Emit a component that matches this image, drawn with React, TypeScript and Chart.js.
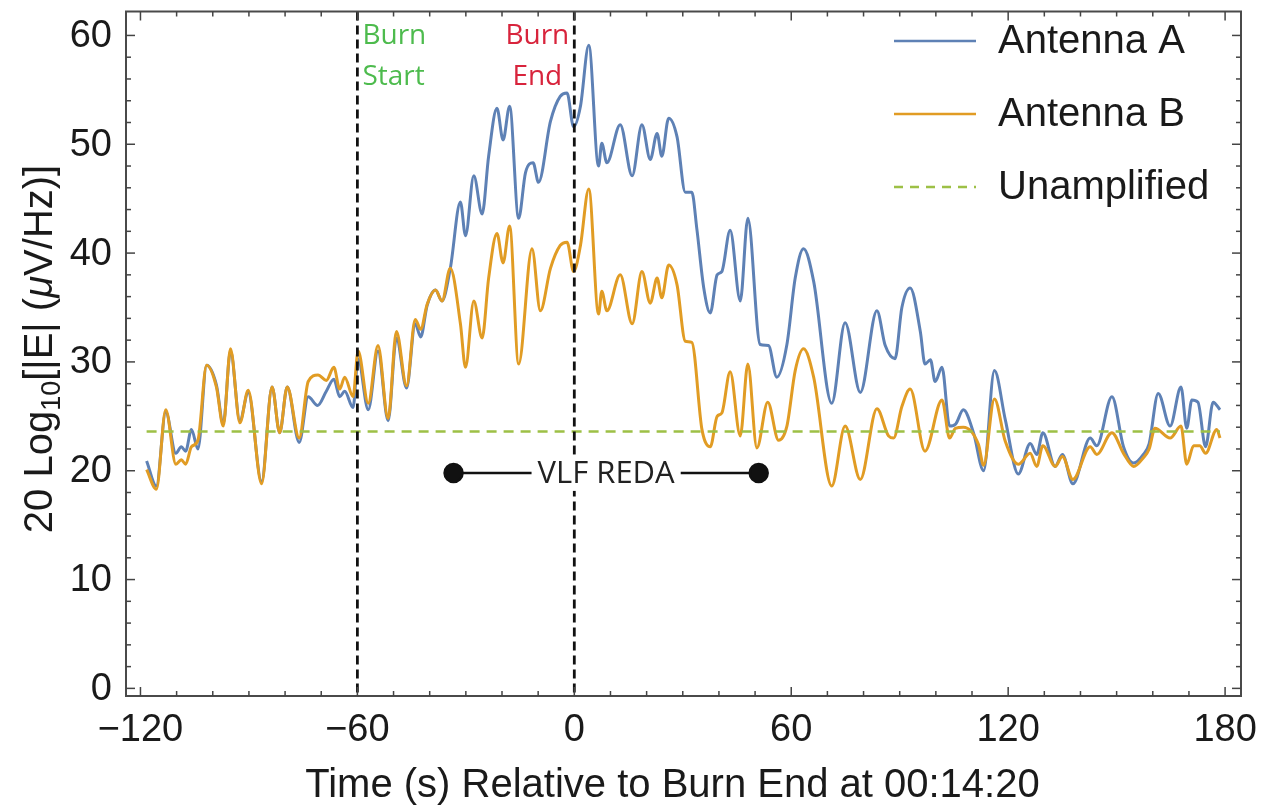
import React, { useEffect, useRef } from "react";
import { Chart, registerables } from "chart.js";

Chart.register(...registerables);

// ---------- data ----------
const timesA = [
  -118.3, -115.6, -113, -110.2, -108.7, -107.5, -105.9, -104.1, -101.7, -99, -97.1, -95.1, -92.5, -90.2,
  -86.5, -83.6, -81.5, -79.4, -76.1, -73.6, -71, -68.6, -66.5, -64.9, -63.5, -61.2, -59.8, -57, -54.3,
  -51.5, -49.2, -46.4, -44, -42.5, -40.7, -38.4, -36.6, -34.3, -31.5, -30.1, -27.8, -25.5, -23.7, -21.4,
  -19.7, -17.9, -15.4, -13.5, -11.4, -9.9, -6.6, -3.9, -2, -0.2, 1.7, 4, 6.7, 7.6, 9, 12.7, 16, 18.7,
  21, 22.9, 24.2, 26.1, 28.4, 30.7, 32.5, 33.9, 35.8, 37.6, 39.5, 40.8, 43.1, 45.9, 48, 51.4, 53.7, 56,
  58.8, 61.1, 63.4, 66.2, 71.2, 74.9, 79.1, 83.7, 86, 88.7, 90.6, 92.9, 95.7, 97, 98.5, 99.8, 101.7,
  103.8, 105.5, 107.6, 110.4, 113.2, 116.2, 119.2, 122.8, 126.1, 127.9, 129.6, 133, 135, 137.9, 142.7,
  144.5, 148.7, 151.9, 154.7, 157.4, 159, 161.5, 164.8, 167.8, 169.4, 170.8, 172.5, 174.6, 176.7, 178.6,
];
const antennaA = [
  20.9, 18.6, 25.4, 21.6, 22.2, 21.8, 23.8, 22.0, 29.7, 27.9, 24.3, 31.0, 24.6, 27.2,
  19.0, 27.7, 23.5, 27.7, 22.6, 26.8, 26.0, 27.3, 28.4, 26.8, 27.3, 25.8, 30.3, 25.6, 31.0,
  24.6, 32.2, 27.6, 33.5, 32.3, 35.2, 36.6, 35.6, 38.6, 44.7, 41.6, 47.1, 43.6, 48.9, 53.3,
  50.4, 53.5, 43.2, 47.4, 48.3, 46.5, 52.1, 54.4, 54.7, 51.6, 53.5, 59.1, 48.0, 50.1, 48.3, 51.8, 47.1, 51.8,
  48.6, 51.0, 48.9, 52.4, 50.7, 45.6, 45.6, 42.2, 36.8, 34.5, 38.0, 38.3, 42.1, 35.6, 43.2, 31.6, 31.5, 28.6,
  31.6, 37.7, 40.4, 37.4, 26.2, 33.6, 27.2, 34.7, 31.5, 30.3, 35.0, 36.8, 32.8, 29.8, 30.2, 28.2, 29.5,
  24.1, 24.3, 25.6, 23.5, 20.0, 29.2, 24.7, 19.7, 22.5, 21.5, 23.5, 20.4, 21.5, 18.8, 23.0,
  22.3, 26.8, 22.2, 20.7, 21.5, 22.5, 27.1, 24.1, 27.7, 23.9, 26.5, 26.3, 22.2, 26.3, 25.6,
];

const timesB = [
  -118.3, -115.6, -113, -110.2, -108.7, -107.5, -105.9, -104.1, -101.7, -99, -97.1, -95.1, -92.5, -90.2,
  -86.5, -83.6, -81.5, -79.4, -76.1, -73.6, -70.9, -68.6, -66.5, -64.9, -63.5, -61.2, -59.8, -57, -54.3,
  -51.5, -49.2, -46.4, -44, -42.5, -40.7, -38.4, -36.6, -34.3, -31.5, -30.1, -27.8, -25.5, -23.7, -21.4,
  -19.7, -17.9, -15.4, -11.7, -9.4, -6.6, -3.9, -2, -0.2, 1.7, 4, 6.7, 7.6, 9, 12.7, 16, 18.7,
  21, 22.9, 24.2, 26.1, 28.4, 30.7, 32.5, 35.3, 37.6, 39.5, 40.8, 43.1, 45.9, 48, 50.5, 53.5, 56.5,
  58.8, 61.1, 63.4, 66.2, 71.2, 74.9, 79.1, 83.7, 86.9, 88.3, 90.6, 92.9, 97, 101.7,
  103.8, 105.4, 107.6, 111.8, 113.2, 116.2, 119.2, 122.8, 126.1, 127.9, 129.6, 133, 135, 137.9, 142.7,
  144.5, 148.7, 151.9, 154.7, 157.4, 159, 160.6, 164.8, 167.8, 169.4, 171.3, 173, 174.6, 177.7, 178.6,
];
const antennaB = [
  20.1, 18.3, 25.6, 20.6, 21.0, 20.6, 22.2, 22.8, 29.7, 27.7, 24.1, 31.2, 24.4, 27.4,
  18.8, 27.7, 23.5, 27.7, 23.0, 28.2, 28.8, 28.3, 29.5, 27.5, 28.6, 26.8, 31.0, 26.2, 31.5,
  24.8, 32.8, 27.8, 33.9, 33.0, 35.3, 36.6, 35.6, 38.6, 33.5, 29.5, 35.6, 32.2, 37.7, 41.8,
  39.1, 42.5, 29.8, 40.4, 34.7, 38.6, 40.7, 41.0, 38.3, 40.7, 45.9, 34.4, 36.5, 34.7, 38.0, 33.5, 38.3,
  35.4, 37.7, 35.9, 38.9, 37.1, 31.9, 31.8, 23.8, 22.2, 25.0, 25.3, 29.1, 23.2, 29.8, 22.1, 26.3, 22.8,
  24.1, 29.2, 31.2, 28.6, 18.6, 24.1, 19.2, 25.7, 23.2, 23.0, 25.9, 27.5, 21.8, 26.5,
  23.0, 23.9, 24.0, 22.4, 20.5, 26.6, 22.7, 20.6, 21.6, 20.4, 22.3, 20.4, 21.3, 19.2, 22.2,
  21.5, 23.5, 21.6, 20.4, 21.2, 22.0, 23.9, 23.0, 24.1, 20.6, 22.3, 22.3, 21.6, 23.8, 23.0,
];

const unamplifiedLevel = 23.6;
const burnStartTime = -60;
const burnEndTime = 0;
const redaStart = -33.4;
const redaEnd = 51;
const redaLevel = 19.8;
const redaLabel = "VLF REDA";

const xTickLabels = [-120, -60, 0, 60, 120, 180];
const yTickLabels = [0, 10, 20, 30, 40, 50, 60];
const xMinorStep = 10;
const yMinorStep = 2;
const xMin = -124;
const xMax = 184.4;
const yMin = -0.7;
const yMax = 62.2;

const seriesNames = ["Antenna A", "Antenna B", "Unamplified"];
const colorA = "#5E81B5";
const colorB = "#E19C24";
const colorU = "#9DC046";
const xTitle = "Time (s) Relative to Burn End at 00:14:20";

const SANS = '"Liberation Sans", Arial, sans-serif';
const CAL = '"Open Sans", sans-serif';

const fmt = (v: number) => (v < 0 ? "\u2212" + Math.abs(v) : String(v));

const overlay = {
  id: "overlay",
  afterDatasetsDraw(chart: any) {
    const { ctx, chartArea: a, scales } = chart;
    const x = scales.x;
    const y = scales.y;
    ctx.save();

    // VLF REDA label with white background
    const mx = x.getPixelForValue((redaStart + redaEnd) / 2);
    const my = y.getPixelForValue(redaLevel);
    ctx.font = `31px ${CAL}`;
    const w = ctx.measureText(redaLabel).width;
    ctx.fillStyle = "#ffffff";
    ctx.fillRect(mx - w / 2 - 6, my - 18, w + 12, 36);
    ctx.fillStyle = "#222";
    ctx.textAlign = "center";
    ctx.textBaseline = "middle";
    ctx.fillText(redaLabel, mx, my + 1);

    // Burn labels
    ctx.font = `28px ${CAL}`;
    ctx.fillStyle = "#4DBB4D";
    const bs = x.getPixelForValue(burnStartTime);
    ctx.textAlign = "left";
    ctx.fillText("Burn", bs + 5, a.top + 25);
    ctx.fillText("Start", bs + 5, a.top + 66);
    ctx.fillStyle = "#D8243C";
    const be = x.getPixelForValue(burnEndTime);
    ctx.textAlign = "center";
    ctx.fillText("Burn", be - 37, a.top + 25);
    ctx.fillText("End", be - 37, a.top + 66);

    // frame
    ctx.strokeStyle = "#4a4a4a";
    ctx.lineWidth = 2;
    ctx.setLineDash([]);
    ctx.strokeRect(a.left, a.top, a.right - a.left, a.bottom - a.top);

    const line = (x1: number, y1: number, x2: number, y2: number) => {
      ctx.beginPath();
      ctx.moveTo(x1, y1);
      ctx.lineTo(x2, y2);
      ctx.stroke();
    };
    ctx.lineWidth = 1.5;
    ctx.strokeStyle = "#444";
    for (let v = xTickLabels[0]; v <= xTickLabels[xTickLabels.length - 1]; v += xMinorStep) {
      const px = x.getPixelForValue(v);
      const len = xTickLabels.includes(v) ? 9 : 5;
      line(px, a.bottom, px, a.bottom - len);
      line(px, a.top, px, a.top + len);
    }
    for (let v = yTickLabels[0]; v <= yTickLabels[yTickLabels.length - 1]; v += yMinorStep) {
      const py = y.getPixelForValue(v);
      const len = yTickLabels.includes(v) ? 9 : 5;
      line(a.left, py, a.left + len, py);
      line(a.right, py, a.right - len, py);
    }

    // tick labels
    ctx.fillStyle = "#1a1a1a";
    ctx.font = `38px ${SANS}`;
    ctx.textAlign = "center";
    ctx.textBaseline = "middle";
    xTickLabels.forEach((v) => ctx.fillText(fmt(v), x.getPixelForValue(v), a.bottom + 35));
    ctx.textAlign = "right";
    yTickLabels.forEach((v) => ctx.fillText(fmt(v), a.left - 14, y.getPixelForValue(v) + 1));

    // x title
    ctx.textAlign = "center";
    ctx.font = `40px ${SANS}`;
    ctx.fillText(xTitle, (a.left + a.right) / 2 - 11, a.bottom + 90);

    // y title with subscript and italic mu
    ctx.save();
    ctx.translate(52, 349);
    ctx.rotate(-Math.PI / 2);
    ctx.textBaseline = "alphabetic";
    ctx.textAlign = "left";
    const parts: [string, string, number][] = [
      ["20 Log", `40px ${SANS}`, 0],
      ["10", `27px ${SANS}`, 8],
      ["[|E| (", `40px ${SANS}`, 0],
      ["\u03BC", `italic 40px ${SANS}`, 0],
      ["V/Hz)]", `40px ${SANS}`, 0],
    ];
    let total = 0;
    parts.forEach(([t, f]) => {
      ctx.font = f;
      total += ctx.measureText(t).width;
    });
    let cx = -total / 2;
    parts.forEach(([t, f, dy]) => {
      ctx.font = f;
      ctx.fillText(t, cx, dy);
      cx += ctx.measureText(t).width;
    });
    ctx.restore();

    // legend
    const legendColors = [colorA, colorB, colorU];
    const legendY = [41, 114, 187];
    ctx.font = `40px ${SANS}`;
    ctx.textAlign = "left";
    ctx.textBaseline = "middle";
    seriesNames.forEach((name, i) => {
      ctx.strokeStyle = legendColors[i];
      ctx.lineWidth = 2.5;
      ctx.setLineDash(i === 2 ? [9, 7] : []);
      line(894, legendY[i], 976, legendY[i]);
      ctx.setLineDash([]);
      ctx.fillStyle = "#1a1a1a";
      ctx.fillText(name, 998, legendY[i] + 1);
    });

    ctx.restore();
  },
};

export default function App() {
  const canvasRef = useRef<HTMLCanvasElement | null>(null);

  useEffect(() => {
    if (!canvasRef.current) return;
    const chart = new Chart(canvasRef.current, {
      type: "line",
      data: {
        datasets: [
          {
            label: seriesNames[0],
            data: timesA.map((t, i) => ({ x: t, y: antennaA[i] })),
            borderColor: colorA,
            borderWidth: 3,
            pointRadius: 0,
            cubicInterpolationMode: "monotone",
            order: 4,
          },
          {
            label: seriesNames[1],
            data: timesB.map((t, i) => ({ x: t, y: antennaB[i] })),
            borderColor: colorB,
            borderWidth: 3,
            pointRadius: 0,
            cubicInterpolationMode: "monotone",
            order: 3,
          },
          {
            label: seriesNames[2],
            data: [
              { x: timesA[0], y: unamplifiedLevel },
              { x: timesA[timesA.length - 1], y: unamplifiedLevel },
            ],
            borderColor: colorU,
            borderWidth: 2.4,
            borderDash: [10, 7],
            pointRadius: 0,
            order: 2,
          },
          {
            label: "Burn Start",
            data: [
              { x: burnStartTime, y: yMax },
              { x: burnStartTime, y: yMin },
            ],
            borderColor: "#111",
            borderWidth: 2.8,
            borderDash: [9, 5],
            pointRadius: 0,
            order: 1,
          },
          {
            label: "Burn End",
            data: [
              { x: burnEndTime, y: yMax },
              { x: burnEndTime, y: yMin },
            ],
            borderColor: "#111",
            borderWidth: 2.8,
            borderDash: [9, 5],
            pointRadius: 0,
            order: 1,
          },
          {
            label: redaLabel,
            data: [
              { x: redaStart, y: redaLevel },
              { x: redaEnd, y: redaLevel },
            ],
            borderColor: "#111",
            borderWidth: 2.5,
            pointRadius: 9,
            pointBackgroundColor: "#111",
            pointBorderColor: "#111",
            order: 0,
          },
        ],
      },
      options: {
        animation: false,
        responsive: false,
        layout: { padding: { left: 126, right: 34, top: 4, bottom: 116 } },
        plugins: { legend: { display: false }, tooltip: { enabled: false } },
        events: [],
        scales: {
          x: { type: "linear", min: xMin, max: xMax, display: false },
          y: { type: "linear", min: yMin, max: yMax, display: false },
        },
      },
      plugins: [overlay],
    });
    return () => chart.destroy();
  }, []);

  return (
    <div style={{ position: "absolute", left: 0, top: 0, width: 1275, height: 812, background: "#fff" }}>
      <canvas ref={canvasRef} width={1275} height={812} style={{ display: "block" }} />
    </div>
  );
}
